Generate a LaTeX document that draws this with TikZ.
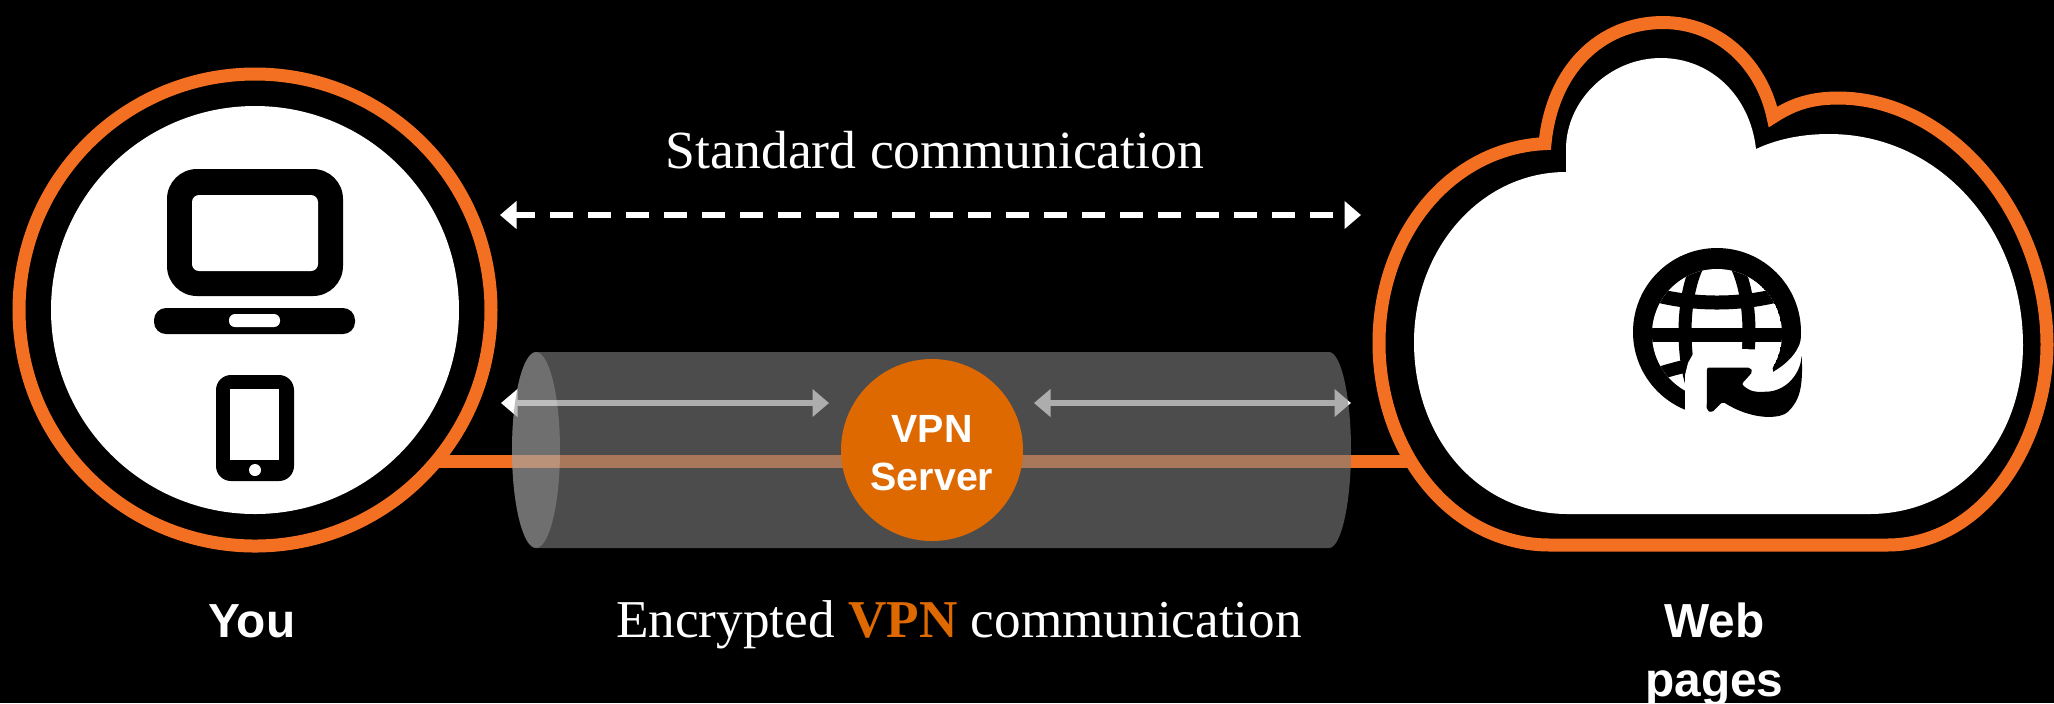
\documentclass[tikz,border=0pt]{standalone}
\usepackage{fontspec}
\setmainfont{Liberation Serif}
\setsansfont{Liberation Sans}
\usetikzlibrary{arrows.meta}
\definecolor{ringorange}{RGB}{243,111,33}
\definecolor{vpnorange}{RGB}{221,105,0}
\definecolor{tubegray}{RGB}{124,124,124}
\tikzset{
	ringline/.style={draw=ringorange, line width=.13cm},
	whitearrow/.style={draw=white, line width=.06cm, {Triangle[length=.165cm,width=.27cm]}-{Triangle[length=.165cm,width=.27cm]}},
	seriflabel/.style={text=white, inner sep=0, anchor=base, font=\fontsize{15.28}{18}\selectfont},
	sanslabel/.style={text=white, inner sep=0, align=center, font=\sffamily\bfseries\fontsize{13.6}{16.8}\selectfont},
}

\begin{document}
\begin{tikzpicture}[x=1cm,y=-1cm]
	\useasboundingbox (0,0) rectangle (20.54,7.03);
	\fill [black] (0,0) rectangle (20.54,7.03);

	% you
	\node [circle, ringline, outer sep=0, minimum size=4.72cm] (youring) at (2.55,3.10) {};
	\node [circle, fill=white, outer sep=0, minimum size=4.08cm] (youdisk) at (2.55,3.10) {};
	% laptop
	\fill [black, rounded corners=.3cm] (1.67,1.69) rectangle (3.43,2.96);
	\fill [white, rounded corners=.07cm] (1.92,1.95) rectangle (3.18,2.71);
	\fill [black, rounded corners=.12cm] (1.54,3.08) rectangle (3.55,3.34);
	\fill [white, rounded corners=.06cm] (2.29,3.14) rectangle (2.80,3.27);
	% phone
	\fill [black, rounded corners=.15cm] (2.16,3.75) rectangle (2.94,4.81);
	\fill [white] (2.30,3.89) rectangle (2.79,4.60);
	\fill [white] (2.55,4.70) circle [radius=.06];

	% web
	\draw [ringline, fill=black] (18.87,5.45) .. controls (19.85,5.45) and (20.47,4.40) .. (20.47,3.45)
		.. controls (20.47,2.15) and (19.50,.98) .. (18.38,.98)
		.. controls (18.08,.98) and (17.90,1.06) .. (17.73,1.17)
		.. controls (17.62,.65) and (17.20,.225) .. (16.63,.225)
		.. controls (16.00,.225) and (15.52,.70) .. (15.45,1.436)
		.. controls (14.50,1.48) and (13.79,2.35) .. (13.79,3.43)
		.. controls (13.79,4.50) and (14.50,5.45) .. (15.50,5.45) -- cycle;
	\fill [white] (18.69,5.14) .. controls (19.60,5.14) and (20.23,4.40) .. (20.23,3.45)
		.. controls (20.23,2.30) and (19.40,1.34) .. (18.29,1.34)
		.. controls (18.00,1.34) and (17.75,1.40) .. (17.56,1.49)
		.. controls (17.50,.95) and (17.10,.58) .. (16.61,.58)
		.. controls (16.10,.58) and (15.66,1.00) .. (15.66,1.49)
		-- (15.66,1.72)
		.. controls (14.80,1.72) and (14.14,2.50) .. (14.14,3.42)
		.. controls (14.14,4.40) and (14.80,5.14) .. (15.68,5.14) -- cycle;
	% globe
	\fill [black] (17.17,3.32) circle [radius=.84];
	\begin{scope}
		\clip (17.17,3.34) circle [radius=.65];
		\fill [white] (17.17,3.34) circle [radius=.65];
		\draw [black, line width=.13cm] (17.17,3.32) ellipse [x radius=.32, y radius=.84];
		\draw [black, line width=.14cm] (16.40,3.345) -- (17.95,3.345);
		\draw [black, line width=.14cm] (16.45,2.92) .. controls (16.90,3.06) and (17.44,3.06) .. (17.89,2.92);
		\draw [black, line width=.13cm] (16.45,3.78) .. controls (16.80,3.66) and (17.00,3.62) .. (17.30,3.60);
	\end{scope}
	\fill [white] (16.85,4.25) -- (16.85,3.75) -- (16.88,3.63) -- (16.93,3.54) -- (16.93,3.42)
		-- (17.42,3.42) -- (17.42,3.49) -- (17.56,3.495) -- (17.56,3.42) -- (17.70,3.42) -- (17.73,3.72)
		.. controls (17.90,3.62) and (18.00,3.50) .. (18.02,3.35)
		-- (18.06,3.35) -- (18.06,4.25) -- cycle;
	\fill [black, rounded corners=.02cm] (17.07,3.675) -- (17.50,3.675) -- (17.527,3.717) -- (17.417,3.84)
		.. controls (17.50,3.92) and (17.57,3.92) .. (17.63,3.917)
		.. controls (17.85,3.92) and (18.00,3.75) .. (18.017,3.55)
		.. controls (18.03,3.87) and (18.00,4.00) .. (17.867,4.13)
		.. controls (17.75,4.19) and (17.50,4.19) .. (17.227,4.017)
		-- (17.117,4.127) -- (17.067,4.10) -- cycle;

	% arrows
	\coordinate (stdl) at (5.00,2.15);
	\coordinate (stdr) at (13.61,2.15);
	\draw [whitearrow, dash pattern=on .227cm off .153cm, dash phase=.03cm] (stdl) -- (stdr);
	\coordinate (tunla) at (5.01,4.03);
	\coordinate (tunlb) at (8.29,4.03);
	\coordinate (tunra) at (10.34,4.03);
	\coordinate (tunrb) at (13.51,4.03);
	\draw [whitearrow] (tunla) -- (tunlb);
	\draw [whitearrow] (tunra) -- (tunrb);

	% connector
	\coordinate (cloudin) at (14.10,4.615);
	\draw [draw=ringorange, line width=.13cm] (youring.-39.8 |- cloudin) -- (cloudin);

	% tube
	\fill [tubegray, fill opacity=.62] (5.36,3.52) -- (13.29,3.52)
		.. controls (13.41,3.52) and (13.51,3.96) .. (13.51,4.50)
		.. controls (13.51,5.04) and (13.41,5.48) .. (13.29,5.48)
		-- (5.36,5.48)
		.. controls (5.23,5.48) and (5.12,5.04) .. (5.12,4.50)
		.. controls (5.12,3.96) and (5.23,3.52) .. (5.36,3.52) -- cycle;
	\fill [white, fill opacity=.2] (5.36,4.50) ellipse [x radius=.24, y radius=.98];

	% server
	\node [circle, fill=vpnorange, outer sep=0, minimum size=1.82cm] (vpn) at (9.32,4.50) {};
	\node [text=white, inner sep=0, align=center, font=\sffamily\bfseries\fontsize{11.2}{13.7}\selectfont] (vpntext) at (9.32,4.53) {VPN\\Server};

	% label
	\node [seriflabel] (stdtext) at (9.35,1.68) {Standard communication};
	\node [seriflabel, font=\fontsize{15.14}{18}\selectfont] (enctext) at (9.59,6.375) {Encrypted \textcolor{vpnorange}{\textbf{VPN}} communication};
	\node [sanslabel, anchor=base] (youtext) at (2.52,6.375) {You};
	\node [sanslabel, anchor=north] (webtext) at (17.145,6.02) {Web\\pages};
\end{tikzpicture}
\end{document}
